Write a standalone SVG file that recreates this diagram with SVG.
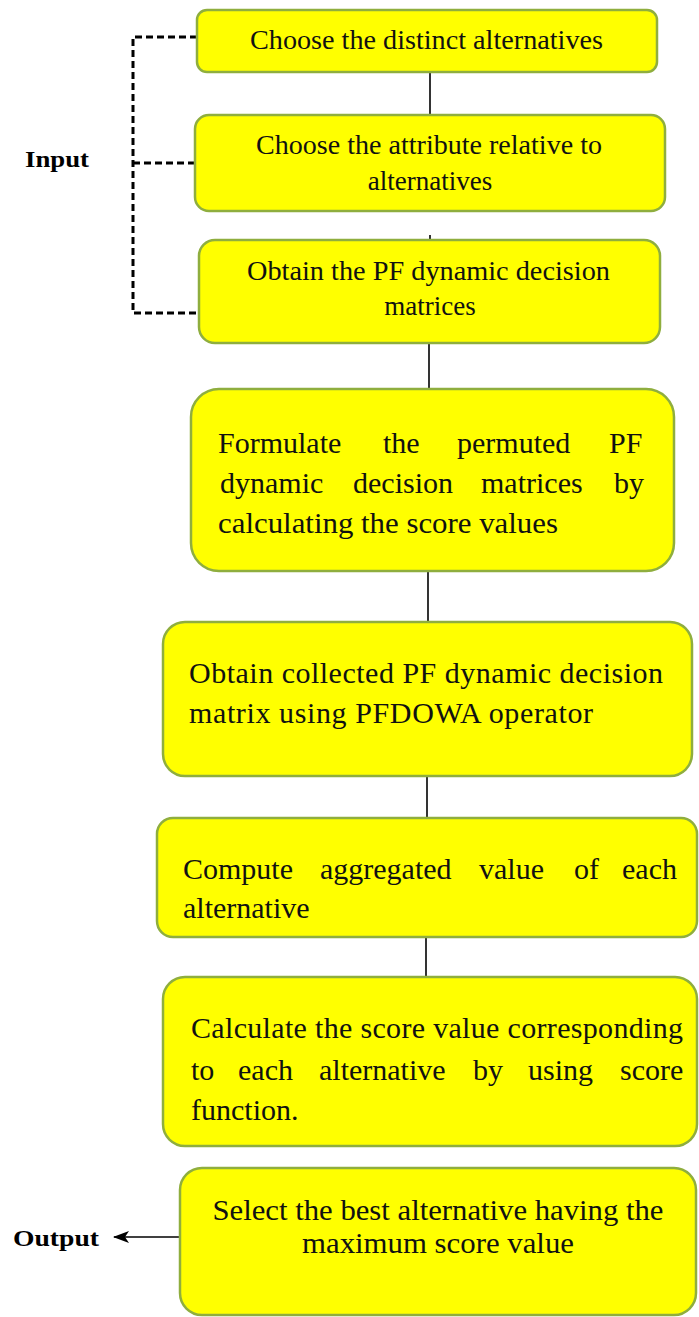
<svg xmlns="http://www.w3.org/2000/svg" width="699" height="1317" viewBox="0 0 699 1317">
<defs>
<style>
.box{fill:#ffff00;stroke:#8fae3e;stroke-width:2.5}
.t{font-family:"Liberation Serif","Times New Roman",serif;fill:#111;font-size:30px}
.lbl{font-family:"Liberation Serif","Times New Roman",serif;fill:#000;font-weight:bold;font-size:24px}
.c{stroke:#000;stroke-width:1.6;fill:none}
.d{stroke:#000;stroke-width:3;fill:none;stroke-dasharray:7 4}
</style>
<marker id="ah" viewBox="0 0 10 10" refX="9" refY="5" markerWidth="7" markerHeight="7" markerUnits="userSpaceOnUse" orient="auto">
<path d="M0,0 L10,5 L0,10 L3,5 z" fill="#000"/>
</marker>
<marker id="ah2" viewBox="0 0 16 12" refX="15" refY="6" markerWidth="16" markerHeight="12" markerUnits="userSpaceOnUse" orient="auto">
<path d="M0,0 L16,6 L0,12 L4,6 z" fill="#000"/>
</marker>
</defs>
<rect width="699" height="1317" fill="#fff"/>
<g id="connectors">
<line class="c" x1="430" y1="72" x2="430" y2="115"/>
<line class="c" x1="430" y1="235" x2="430" y2="240"/>
<line class="c" x1="429" y1="343" x2="429" y2="389"/>
<line class="c" x1="428" y1="571" x2="428" y2="622"/>
<line class="c" x1="427" y1="776" x2="427" y2="818"/>
<line class="c" x1="426" y1="937" x2="426" y2="977"/>
<line class="c" x1="198" y1="1237" x2="114" y2="1237" marker-end="url(#ah2)"/>
<path class="d" d="M197,37 H133 V313 H199"/>
<line class="d" x1="133" y1="163" x2="195" y2="163"/>
</g>
<g id="input-label"><text class="lbl" x="25" y="167" textLength="64" lengthAdjust="spacingAndGlyphs">Input</text></g>
<g id="output-label"><text class="lbl" x="13" y="1246" textLength="86" lengthAdjust="spacingAndGlyphs">Output</text></g>
<g id="n1">
<rect class="box" x="197" y="10" width="460" height="62" rx="10"/>
<text class="t" style="font-size:27px" x="250" y="49" textLength="353" lengthAdjust="spacingAndGlyphs">Choose the distinct alternatives</text>
</g>
<g id="n2">
<rect class="box" x="195" y="115" width="470" height="96" rx="14"/>
<text class="t" style="font-size:27px" x="256" y="154" textLength="346" lengthAdjust="spacingAndGlyphs">Choose the attribute relative to</text>
<text class="t" style="font-size:27px" x="430" y="190" text-anchor="middle">alternatives</text>
</g>
<g id="n3">
<rect class="box" x="199" y="240" width="461" height="103" rx="16"/>
<text class="t" style="font-size:27px" x="247" y="280" textLength="363" lengthAdjust="spacingAndGlyphs">Obtain the PF dynamic decision</text>
<text class="t" style="font-size:27px" x="430" y="315" text-anchor="middle">matrices</text>
</g>
<g id="n4">
<rect class="box" x="191" y="389" width="483" height="182" rx="28"/>
<text class="t"><tspan x="218" y="453">Formulate</tspan><tspan x="383" y="453">the</tspan><tspan x="457" y="453">permuted</tspan><tspan x="609" y="453">PF</tspan></text>
<text class="t"><tspan x="220" y="493">dynamic</tspan><tspan x="353" y="493">decision</tspan><tspan x="481" y="493">matrices</tspan><tspan x="614" y="493">by</tspan></text>
<text class="t" x="218" y="533" textLength="340" lengthAdjust="spacingAndGlyphs">calculating the score values</text>
</g>
<g id="n5">
<rect class="box" x="163" y="622" width="529" height="154" rx="22"/>
<text class="t" x="189" y="683" textLength="474" lengthAdjust="spacing">Obtain collected PF dynamic decision</text>
<text class="t" x="189" y="723" textLength="404" lengthAdjust="spacing">matrix using PFDOWA operator</text>
</g>
<g id="n6">
<rect class="box" x="157" y="818" width="540" height="119" rx="16"/>
<text class="t"><tspan x="183" y="879">Compute</tspan><tspan x="320" y="879">aggregated</tspan><tspan x="479" y="879">value</tspan><tspan x="574" y="879">of</tspan><tspan x="622" y="879">each</tspan></text>
<text class="t" x="183" y="918">alternative</text>
</g>
<g id="n7">
<rect class="box" x="163" y="977" width="534" height="169" rx="22"/>
<text class="t" x="191" y="1038" textLength="492" lengthAdjust="spacing">Calculate the score value corresponding</text>
<text class="t"><tspan x="191" y="1080">to</tspan><tspan x="238" y="1080">each</tspan><tspan x="319" y="1080">alternative</tspan><tspan x="473" y="1080">by</tspan><tspan x="528" y="1080">using</tspan><tspan x="620" y="1080">score</tspan></text>
<text class="t" x="191" y="1120">function.</text>
</g>
<g id="n8">
<rect class="box" x="180" y="1168" width="516" height="147" rx="22"/>
<text class="t" style="font-size:29px" x="438" y="1220" text-anchor="middle" textLength="451" lengthAdjust="spacingAndGlyphs">Select the best alternative having the</text>
<text class="t" style="font-size:29px" x="438" y="1253" text-anchor="middle" textLength="272" lengthAdjust="spacingAndGlyphs">maximum score value</text>
</g>
</svg>
